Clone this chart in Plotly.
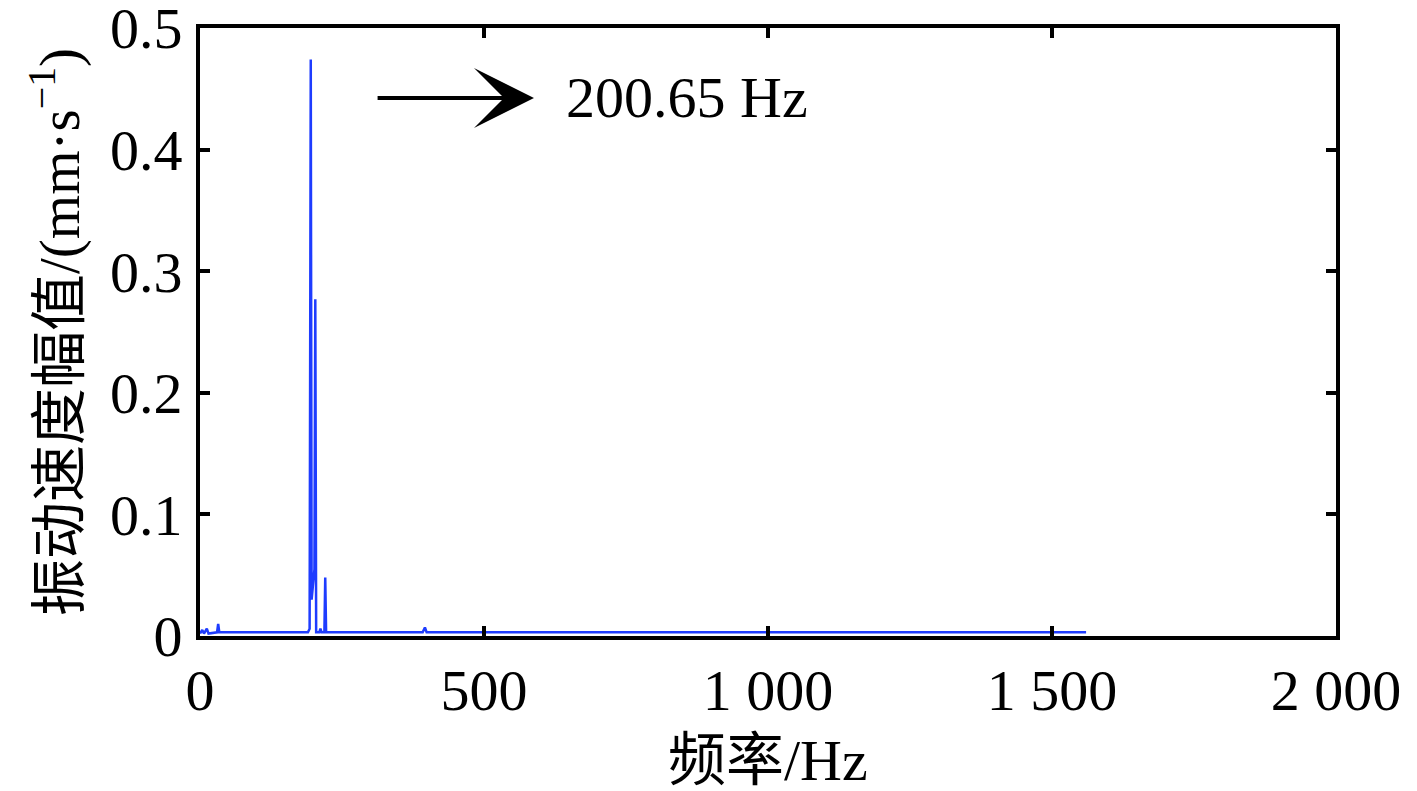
import plotly.graph_objects as go

# --- data (Hz, mm/s) ---
freq = [0, 4, 7, 12, 15, 30, 32, 34, 190, 193, 195, 196.5, 201.5, 203, 204.5,
        210, 212, 214, 219, 220.5, 222, 392, 396, 399, 1560]
amp = [0.002, 0.005, 0.002, 0.006, 0.002, 0.003, 0.010, 0.003, 0.003, 0.006,
       0.474, 0.030, 0.055, 0.277, 0.003, 0.003, 0.006, 0.003, 0.003, 0.048,
       0.003, 0.003, 0.007, 0.003, 0.003]

x_ticks = [0, 500, 1000, 1500, 2000]
x_ticktext = ["0", "500", "1 000", "1 500", "2 000"]
y_ticks = [0, 0.1, 0.2, 0.3, 0.4, 0.5]
y_ticktext = ["0", "0.1", "0.2", "0.3", "0.4", "0.5"]

peak_label = "200.65 Hz"
arrow_from = (310, 0.4425)
arrow_to = (588, 0.4425)

SERIF = "Liberation Serif, Times New Roman, Noto Sans CJK SC, serif"
CJK = "Liberation Serif, Noto Sans CJK SC, serif"

# page body adds an 8px offset, so the figure is 8px smaller each way
W, H = 1409, 783
L, T = 192, 20
PW, PH = 1136, 608

fig = go.Figure()
fig.add_trace(go.Scatter(x=freq, y=amp, mode="lines",
                         line=dict(color="rgb(30,60,255)", width=2.5),
                         showlegend=False, hoverinfo="skip"))

axis_common = dict(
    showgrid=False, zeroline=False, showline=True, linecolor="black",
    linewidth=4, mirror="allticks", ticks="inside", ticklen=10, tickwidth=4,
    tickcolor="black", ticklabeloverflow="allow", automargin=False,
    tickfont=dict(family=SERIF, size=58, color="black"),
)
fig.update_xaxes(range=[0, 2000], tickvals=x_ticks, ticktext=x_ticktext,
                 ticklabelstandoff=0, **axis_common)
fig.update_yaxes(range=[0, 0.5], tickvals=y_ticks, ticktext=y_ticktext,
                 ticklabelstandoff=2, **axis_common)

# arrow pointing at the peak label
fig.add_annotation(x=arrow_to[0], y=arrow_to[1], ax=arrow_from[0], ay=arrow_from[1],
                   xref="x", yref="y", axref="x", ayref="y",
                   text="", showarrow=True, arrowhead=3, arrowsize=2.5,
                   arrowwidth=4, arrowcolor="black", standoff=0, startstandoff=0)
fig.add_annotation(x=640, y=arrow_to[1], xref="x", yref="y", text=peak_label,
                   showarrow=False, xanchor="left", yanchor="middle",
                   font=dict(family=SERIF, size=58, color="black"))

# axis titles
fig.add_annotation(x=(55 - 200) / PW, y=0.5, xref="paper", yref="paper",
                   text="振动速度幅值/(mm·s<sup>−1</sup>)", textangle=-90,
                   showarrow=False, xanchor="center", yanchor="middle",
                   font=dict(family=CJK, size=57, color="black"))
fig.add_annotation(x=0.5, y=-(760 - 636) / PH, xref="paper", yref="paper",
                   text="频率/Hz", showarrow=False, xanchor="center",
                   yanchor="middle", font=dict(family=CJK, size=58, color="black"))

fig.update_layout(
    width=W, height=H,
    margin=dict(l=L, r=W - L - PW, t=T, b=H - T - PH),
    plot_bgcolor="white", paper_bgcolor="white",
)

fig.write_html("out.html")
